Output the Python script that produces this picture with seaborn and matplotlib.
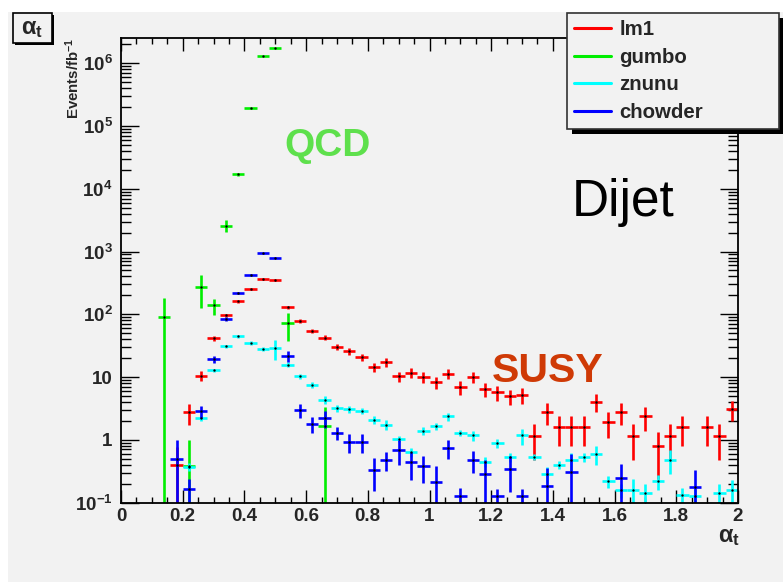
import numpy as np
import pandas as pd
import matplotlib
matplotlib.use("Agg")
import matplotlib.pyplot as plt
from matplotlib.lines import Line2D
from matplotlib.patches import Rectangle
from matplotlib.transforms import IdentityTransform
from matplotlib.ticker import (FixedLocator, MultipleLocator, LogLocator,
                               NullFormatter, FuncFormatter)
import seaborn as sns

# ---- alpha_t distributions, 0.04 wide bins, events / fb^-1 ----
lm1_x = [0.18, 0.22, 0.26, 0.30, 0.34, 0.38, 0.42, 0.46, 0.50, 0.54, 0.58, 0.62,
         0.66, 0.70, 0.74, 0.78, 0.82, 0.86, 0.90, 0.94, 0.98, 1.02, 1.06, 1.10,
         1.14, 1.18, 1.22, 1.26, 1.30, 1.34, 1.38, 1.42, 1.46, 1.50, 1.54, 1.58,
         1.62, 1.66, 1.70, 1.74, 1.78, 1.82, 1.90, 1.94, 1.98]
lm1_y = [0.39, 2.73, 10.5, 41.8, 95.7, 160, 255, 367, 354, 130, 78.7, 54.6,
         42.3, 30.0, 26.0, 20.8, 14.2, 17.3, 10.2, 11.6, 10.0, 8.2, 11.3, 6.9,
         10.0, 6.4, 5.7, 4.9, 5.2, 1.13, 2.8, 1.58, 1.58, 1.58, 4.06, 1.95,
         2.77, 1.13, 2.36, 0.785, 1.13, 1.58, 1.58, 1.13, 3.09]
lm1_err = [0.39, 1.03, 2.0, 4.0, 6.1, 7.9, 10.0, 12.0, 11.8, 7.1, 5.5, 4.6,
           4.1, 3.4, 3.2, 2.85, 2.35, 2.6, 2.0, 2.1, 2.0, 1.8, 2.1, 1.64,
           2.0, 1.58, 1.49, 1.38, 1.42, 0.66, 1.05, 0.78, 0.78, 0.78, 1.26, 0.87,
           1.04, 0.66, 0.96, 0.55, 0.66, 0.78, 0.78, 0.66, 1.1]

gumbo_x = [0.14, 0.22, 0.26, 0.30, 0.34, 0.38, 0.42, 0.46, 0.50, 0.54, 0.66]
gumbo_y = [92, 0.386, 277, 138, 2590, 17100, 192000, 1310000, 1770000, 72, 1.68]
gumbo_err = [92, 0.6, 150, 40, 560, 1000, 3000, 8000, 10000, 34, 1.68]

znunu_x = [0.22, 0.26, 0.30, 0.34, 0.38, 0.42, 0.46, 0.50, 0.54, 0.58, 0.62,
           0.66, 0.70, 0.74, 0.78, 0.82, 0.86, 0.90, 0.94, 0.98, 1.02, 1.06,
           1.10, 1.14, 1.18, 1.22, 1.26, 1.30, 1.34, 1.38, 1.42, 1.46, 1.50,
           1.54, 1.58, 1.62, 1.66, 1.70, 1.74, 1.78, 1.82, 1.86, 1.94, 1.98]
znunu_y = [0.37, 2.22, 12.7, 30.7, 44.3, 34.8, 27.9, 29.0, 15.7, 10.2, 7.55,
           4.35, 3.2, 3.05, 2.9, 2.08, 1.74, 1.04, 0.63, 1.40, 1.64, 2.36,
           1.28, 1.17, 0.45, 0.89, 0.525, 1.17, 0.53, 0.285, 0.40, 0.47, 0.53,
           0.59, 0.218, 0.156, 0.16, 0.144, 0.218, 0.48, 0.13, 0.125, 0.144, 0.158]
znunu_err = [0.05, 0.2, 0.8, 1.8, 2.5, 2.2, 2.0, 10.0, 1.5, 0.9, 0.8,
             0.6, 0.4, 0.35, 0.35, 0.3, 0.3, 0.12, 0.1, 0.2, 0.22, 0.35,
             0.15, 0.2, 0.08, 0.15, 0.08, 0.33, 0.06, 0.08, 0.06, 0.15, 0.08,
             0.2, 0.05, 0.04, 0.08, 0.05, 0.06, 0.2, 0.04, 0.04, 0.05, 0.07]

chowder_x = [0.18, 0.22, 0.26, 0.30, 0.34, 0.38, 0.42, 0.46, 0.50, 0.54, 0.58,
             0.62, 0.66, 0.70, 0.74, 0.78, 0.82, 0.86, 0.90, 0.94, 0.98, 1.02,
             1.06, 1.10, 1.14, 1.18, 1.22, 1.26, 1.30, 1.38, 1.46, 1.62, 1.86]
chowder_y = [0.494, 0.166, 2.84, 19.4, 84, 218, 425, 944, 801, 21.8, 3.0,
             1.8, 2.22, 1.3, 0.92, 0.92, 0.334, 0.48, 0.695, 0.437, 0.377, 0.21,
             0.74, 0.129, 0.48, 0.288, 0.126, 0.347, 0.126, 0.183, 0.303, 0.246, 0.178]
chowder_err = [0.494, 0.07, 0.6, 2.5, 6, 10, 12, 18, 16, 4.5, 0.75,
               0.5, 0.7, 0.3, 0.3, 0.3, 0.18, 0.16, 0.3, 0.21, 0.17, 0.17,
               0.25, 0.04, 0.18, 0.19, 0.04, 0.2, 0.04, 0.17, 0.3, 0.16, 0.15]

samples = ["lm1", "gumbo", "znunu", "chowder"]
colors = {"lm1": "#ff0000", "gumbo": "#00ee00", "znunu": "#00ffff", "chowder": "#0000ff"}
bin_width = 0.04

y_ticks = [0.1, 1, 10, 1e2, 1e3, 1e4, 1e5, 1e6]
x_ticks = [0, 0.2, 0.4, 0.6, 0.8, 1.0, 1.2, 1.4, 1.6, 1.8, 2.0]

frames = []
for name, xs, ys, es in [("lm1", lm1_x, lm1_y, lm1_err),
                         ("gumbo", gumbo_x, gumbo_y, gumbo_err),
                         ("znunu", znunu_x, znunu_y, znunu_err),
                         ("chowder", chowder_x, chowder_y, chowder_err)]:
    frames.append(pd.DataFrame({"sample": name, "alpha_t": xs,
                                "events": ys, "err": es}))
df = pd.concat(frames, ignore_index=True)

# ---- style ----
BG = "#f2f2f2"
sns.set_style("ticks", rc={"axes.facecolor": BG, "axes.edgecolor": "black",
                           "xtick.direction": "in", "ytick.direction": "in"})
plt.rcParams["font.family"] = ["Liberation Sans", "DejaVu Sans"]
plt.rcParams["font.weight"] = "bold"
plt.rcParams["mathtext.fontset"] = "custom"
plt.rcParams["mathtext.rm"] = "Liberation Sans"
plt.rcParams["mathtext.bf"] = "Liberation Sans:bold"
plt.rcParams["mathtext.it"] = "Liberation Sans:italic"
plt.rcParams["mathtext.sf"] = "Liberation Sans"

W, H = 783, 582
fig = plt.figure(figsize=(W / 100, H / 100), dpi=100, facecolor="white")

# grey canvas
fig.add_artist(Rectangle((8 / W, 0), 1 - 8 / W, 1 - 12 / H, transform=fig.transFigure,
                         facecolor=BG, edgecolor="none", zorder=-10))

ax = fig.add_axes([121 / W, 79.5 / H, 617 / W, 464.5 / H])
ax.set_yscale("log")

for name in samples:
    d = df[df["sample"] == name]
    ax.errorbar(d["alpha_t"], d["events"], xerr=bin_width / 2, yerr=d["err"],
                fmt="none", ecolor=colors[name], elinewidth=1.9, capsize=0, zorder=2)
sns.scatterplot(data=df, x="alpha_t", y="events", color="black", s=3,
                linewidth=0, legend=False, ax=ax, zorder=3)

ax.set_xlim(0, 2)
ax.set_ylim(0.1, 2.53e6)

ax.xaxis.set_major_locator(FixedLocator(x_ticks))
ax.xaxis.set_minor_locator(MultipleLocator(0.05))
ax.xaxis.set_major_formatter(FuncFormatter(lambda v, p: "%g" % round(v, 2)))
ax.yaxis.set_major_locator(FixedLocator(y_ticks))
ax.yaxis.set_minor_locator(LogLocator(base=10, subs=np.arange(2, 10)))
ax.yaxis.set_minor_formatter(NullFormatter())


def ylab(v, p):
    e = int(round(np.log10(v)))
    if e == 0:
        return "1"
    if e == 1:
        return "10"
    return r"$\mathbf{10^{%d}}$" % e


ax.yaxis.set_major_formatter(FuncFormatter(ylab))

ax.tick_params(axis="both", which="both", direction="in", top=True, right=True,
               color="black", width=1.0, labelsize=13.5)
ax.tick_params(axis="x", which="major", length=9.5, pad=4)
ax.tick_params(axis="x", which="minor", length=4.5)
ax.tick_params(axis="y", which="major", length=13, pad=6)
ax.tick_params(axis="y", which="minor", length=7)
for s in ax.spines.values():
    s.set_linewidth(1.3)
    s.set_color("black")

ax.set_xlabel(r"$\mathrm{\alpha_t}$", fontsize=17, ha="right", va="center")
ax.xaxis.set_label_coords(1.003, -0.074)
ax.set_ylabel(r"Events/fb$^{\mathbf{-1}}$", fontsize=10.8, fontweight="bold")
ax.yaxis.set_label_coords(-0.078, 1.0)
ax.yaxis.label.set_ha("right")
ax.yaxis.label.set_va("center")

# annotations
fig.text(284 / W, 1 - 156 / H, "QCD", ha="left", va="baseline", fontsize=28,
         fontweight="bold", color="#5ee04c")
fig.text(491.7 / W, 1 - 381.7 / H, "SUSY", ha="left", va="baseline", fontsize=29.5,
         fontweight="bold", color="#cf3a06")
fig.text(571.7 / W, 1 - 215.7 / H, "Dijet", ha="left", va="baseline", fontsize=37,
         fontweight="normal", color="black")

# title box
fig.add_artist(Rectangle((15 / W, 1 - 45 / H), 39 / W, 30 / H, transform=fig.transFigure,
                         facecolor="black", edgecolor="none", zorder=4))
fig.add_artist(Rectangle((13 / W, 1 - 43 / H), 39 / W, 30 / H, transform=fig.transFigure,
                         facecolor=BG, edgecolor="black", linewidth=1.2, zorder=4.5))
fig.text(32.5 / W, 1 - 28 / H, r"$\mathrm{\alpha_t}$", ha="center", va="center",
         fontsize=17, zorder=5)

# legend
handles = [Line2D([], [], color=colors[n], lw=2.2) for n in samples]
leg = fig.legend(handles, samples, loc="upper left",
                 bbox_to_anchor=(567 / W, 1 - 13 / H, 212 / W, 0), mode="expand",
                 frameon=True, fancybox=False, edgecolor="#333333", facecolor=BG,
                 framealpha=1, prop={"weight": "bold", "size": 14.7},
                 handlelength=1.8, handletextpad=0.4, labelspacing=0.42,
                 borderpad=0.36, borderaxespad=0)
leg.get_frame().set_linewidth(1.2)
leg.set_zorder(6)

fig.canvas.draw()
bb = leg.get_frame().get_window_extent()
fig.add_artist(Rectangle((bb.x0 + 5, bb.y0 - 5), bb.width, bb.height,
                         transform=IdentityTransform(), facecolor="black",
                         edgecolor="none", zorder=5.5))

fig.savefig("out.png", dpi=100, facecolor="white")
